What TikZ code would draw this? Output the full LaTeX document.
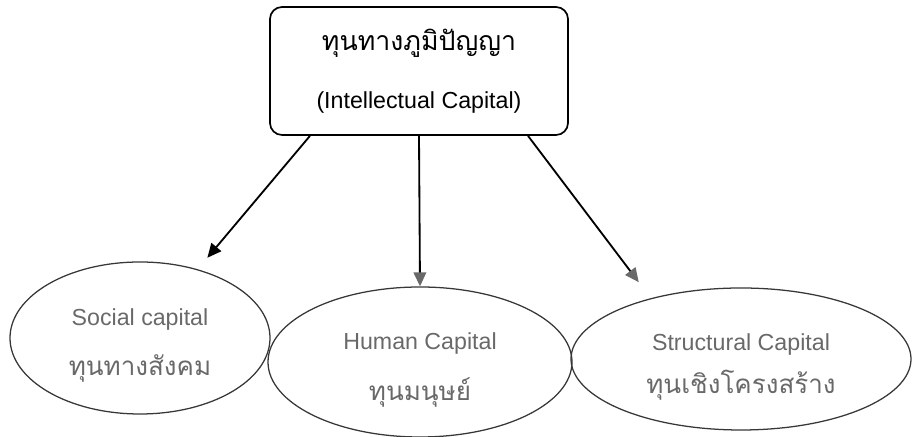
\documentclass[tikz,border=0pt]{standalone}
\usepackage{fontspec}
\setmainfont{Liberation Sans}
\newfontfamily\thaifont[Script=Thai]{Loma}
\usetikzlibrary{shapes.geometric,arrows.meta}
\definecolor{myGray}{RGB}{105,105,105}
\definecolor{myLine}{RGB}{55,55,55}

\begin{document}
\begin{tikzpicture}[
		capbox/.style={draw,line width=1.2pt,rounded corners=0.3cm,minimum width=7.45cm,minimum height=3.2cm,align=center},
		capoval/.style={ellipse,draw=myLine,line width=0.9pt,align=center,text=myGray,inner sep=0pt},
		arr/.style={line width=1.3pt,-{Triangle[length=10pt,width=9pt]}},
		grayarr/.style={line width=1.3pt,-{Triangle[length=10pt,width=9pt,color=myGray,fill=myGray]}}
	]
		\useasboundingbox (0,0) rectangle (22.8,10.925);
		
		% top box
		\node[capbox] (intel) at (10.475,9.15) {\thaifont\fontsize{19}{23}\selectfont ทุนทางภูมิปัญญา\\[23.5pt]\fontsize{16.5}{19}\selectfont (Intellectual Capital)};
		
		% the three capitals
		\node[capoval,minimum width=6.5cm,minimum height=3.8cm] (social) at (3.5,2.475) {\fontsize{16.5}{19}\selectfont\rule{0pt}{22.5pt}Social capital\\[16pt]\thaifont\fontsize{18.5}{22}\selectfont ทุนทางสังคม};
		\node[capoval,minimum width=7.6cm,minimum height=3.75cm] (human) at (10.5,1.875) {\fontsize{16.5}{19}\selectfont\rule{0pt}{23.5pt}Human Capital\\[16pt]\thaifont\fontsize{18.5}{22}\selectfont ทุนมนุษย์};
		\node[capoval,minimum width=8.5cm,minimum height=3.55cm] (struct) at (18.525,1.95) {\fontsize{16.5}{19}\selectfont\rule{0pt}{23.5pt}Structural Capital\\[10pt]\thaifont\fontsize{18.5}{22}\selectfont ทุนเชิงโครงสร้าง};
		
		\draw[arr,shorten >=0.375cm] ([xshift=-2.725cm]intel.south) -- (social.50);
		\draw[grayarr] (intel.south) -- (human.north);
		\draw[grayarr,shorten >=0.5cm] ([xshift=2.725cm]intel.south) -- (struct.146);
	\end{tikzpicture}
\end{document}
